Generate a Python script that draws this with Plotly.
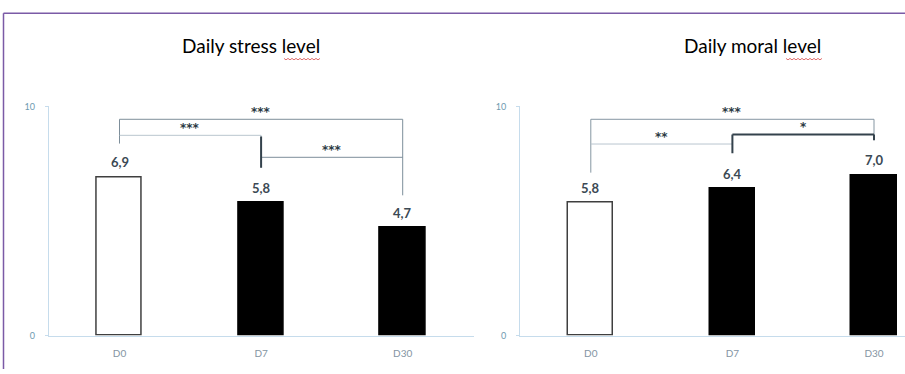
import plotly.graph_objects as go

# ---- data ----
categories = ["D0", "D7", "D30"]
stress_values = [6.9, 5.8, 4.7]
moral_values = [5.8, 6.4, 7.0]
stress_labels = ["6,9", "5,8", "4,7"]
moral_labels = ["5,8", "6,4", "7,0"]
titles = ["Daily stress level", "Daily moral level"]
y_ticks = [0, 10]

# significance brackets: (from_idx, to_idx, stars, bar height, left leg bottom, right leg bottom)
stress_brackets = [
    (0, 2, "***", 9.44, 8.38, 6.12),
    (0, 1, "***", 8.74, 8.74, 7.32),
    (1, 2, "***", 7.78, 8.69, 7.78),
]
moral_brackets = [
    (0, 2, "***", 9.44, 7.11, 8.53),
    (0, 1, "**", 8.36, 8.36, 8.36),
    (1, 2, "*", 8.78, 7.96, 8.53),
]

W, H = 905, 374
xidx = list(range(len(categories)))

fig = go.Figure()

bar_fill = ["white", "black", "black"]
bar_line = ["#3f3f3f", "black", "black"]

for i, vals in enumerate([stress_values, moral_values]):
    ax = "" if i == 0 else "2"
    fig.add_trace(go.Bar(
        x=xidx, y=vals, width=0.32,
        marker=dict(color=bar_fill, line=dict(color=bar_line, width=1.5)),
        xaxis="x" + ax, yaxis="y" + ax, showlegend=False, hoverinfo="skip",
    ))

axis_col = "#c6dcec"
tick_font = dict(family="Liberation Sans Narrow, Lato, sans-serif", size=9, color="#6e9ab0")
cat_font = dict(family="Liberation Sans Narrow, Lato, sans-serif", size=10, color="#8494a2")

top_px, bot_px = 103.5, 339.5
ydom = [1 - bot_px / H, 1 - top_px / H]
left_dom = [48.7 / W, 473.5 / W]
right_dom = [520.0 / W, 1.0]
px_per_cat = (473.5 - 48.7) / 3
right_max = -0.5 + (905 - 520.0) / px_per_cat

xcommon = dict(showline=True, linecolor=axis_col, linewidth=1, showgrid=False, zeroline=False,
               tickvals=xidx, ticktext=categories, ticks="", tickfont=cat_font,
               ticklabelstandoff=8, fixedrange=True)
ycommon = dict(showline=True, linecolor=axis_col, linewidth=1, showgrid=False, zeroline=False,
               range=[0, 10], tickvals=y_ticks, ticks="outside", ticklen=3, tickcolor=axis_col,
               tickfont=tick_font, ticklabelstandoff=8, domain=ydom)

fig.update_layout(
    width=W, height=H, margin=dict(l=0, r=0, t=0, b=0),
    paper_bgcolor="white", plot_bgcolor="rgba(0,0,0,0)",
    xaxis=dict(domain=left_dom, range=[-0.5, 2.5], anchor="y", **xcommon),
    yaxis=dict(anchor="x", **ycommon),
    xaxis2=dict(domain=right_dom, range=[-0.5, right_max], anchor="y2", **xcommon),
    yaxis2=dict(anchor="x2", **ycommon),
    bargap=0,
)

shapes = []
annotations = []

# value labels
for ax, vals, labs in [("", stress_values, stress_labels), ("2", moral_values, moral_labels)]:
    for xi, v, t in zip(xidx, vals, labs):
        annotations.append(dict(x=xi, y=v, xref="x" + ax, yref="y" + ax, text="<b>%s</b>" % t,
                                showarrow=False, yanchor="middle", yshift=15,
                                font=dict(family="Lato, sans-serif", size=13, color="#3b4954")))

# brackets
def add_brackets(ax, brackets, styles):
    for (a, b, stars, h, la, rb), st in zip(brackets, styles):
        col, lw = st
        xr, yr = "x" + ax, "y" + ax
        shapes.append(dict(type="line", xref=xr, yref=yr, x0=a, x1=b, y0=h, y1=h,
                           line=dict(color=col, width=lw)))
        if la < h:
            shapes.append(dict(type="line", xref=xr, yref=yr, x0=a, x1=a, y0=h, y1=la,
                               line=dict(color=col, width=lw)))
        if rb < h:
            shapes.append(dict(type="line", xref=xr, yref=yr, x0=b, x1=b, y0=h, y1=rb,
                               line=dict(color=col, width=lw)))
        annotations.append(dict(x=(a + b) / 2, y=h, xref=xr, yref=yr, text="<b>%s</b>" % stars,
                                showarrow=False, yanchor="middle", yshift=7,
                                font=dict(family="DejaVu Sans, sans-serif", size=12, color="#2c3a44")))

add_brackets("", stress_brackets, [("#7d8e9a", 1), ("#b9c6cf", 1), ("#7d8e9a", 1)])
add_brackets("2", moral_brackets, [("#8596a2", 1), ("#b9c6cf", 1), ("#34424c", 2)])

# the thick marker at D7 in stress chart
shapes.append(dict(type="line", xref="x", yref="y", x0=1, x1=1, y0=8.69, y1=7.32,
                   line=dict(color="#34424c", width=2)))

# titles
for t, cx in zip(titles, [251, 752]):
    annotations.append(dict(x=cx / W, y=1 - 40.5 / H, xref="paper", yref="paper", text=t,
                            showarrow=False, xanchor="center", yanchor="middle",
                            font=dict(family="Lato, sans-serif", size=19, color="#000000")))

# spell-check style squiggle under "level"
for x0, x1 in [(284, 320), (786, 822)]:
    pts = []
    x = x0
    k = 0
    while x <= x1:
        yy = 54.5 + (1.0 if k % 2 else -0.5)
        pts.append((x / W, 1 - yy / H))
        x += 2
        k += 1
    path = "M " + " L ".join("%f,%f" % p for p in pts)
    shapes.append(dict(type="path", xref="paper", yref="paper", path=path,
                       line=dict(color="#e07070", width=1)))

# frame
shapes.append(dict(type="line", xref="paper", yref="paper", x0=3.5 / W, x1=1.0,
                   y0=1 - 7.5 / H, y1=1 - 7.5 / H, line=dict(color="#7b5aa6", width=1.5)))
shapes.append(dict(type="line", xref="paper", yref="paper", x0=3.5 / W, x1=3.5 / W,
                   y0=0, y1=1 - 7.5 / H, line=dict(color="#7b5aa6", width=1.5)))

fig.update_layout(shapes=shapes, annotations=annotations)
fig.write_html("out.html")
